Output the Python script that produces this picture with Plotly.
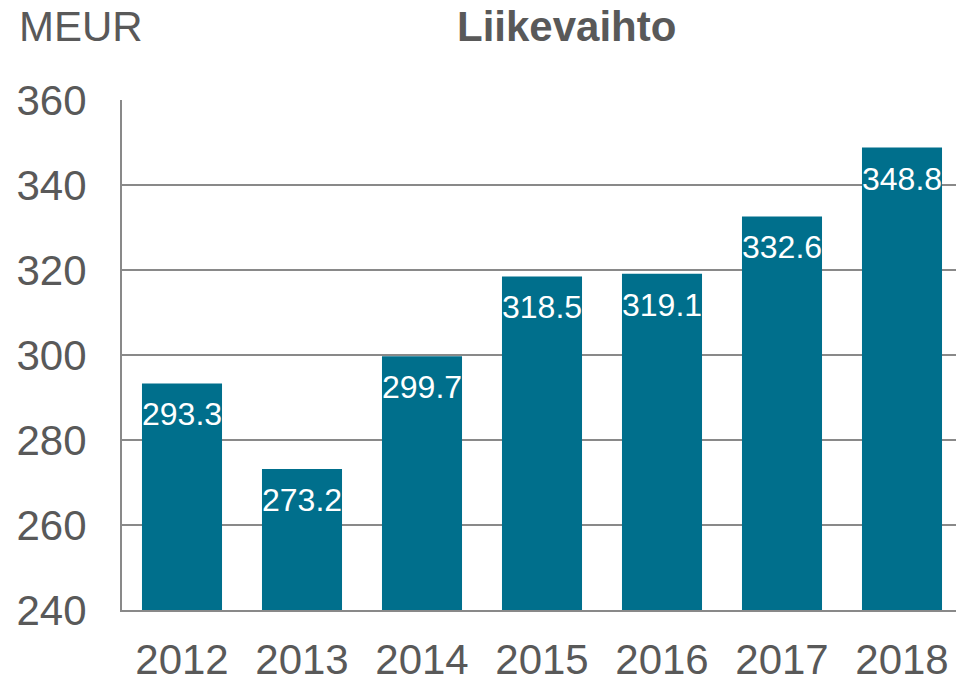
import plotly.graph_objects as go

# Liikevaihto, MEUR
years = ["2012", "2013", "2014", "2015", "2016", "2017", "2018"]
revenue = [293.3, 273.2, 299.7, 318.5, 319.1, 332.6, 348.8]

bar_color = "#006F8C"
text_gray = "#595959"
grid_gray = "#898989"
font_family = "Liberation Sans, Arial, sans-serif"

fig = go.Figure()
fig.add_trace(go.Bar(
    x=years, y=revenue,
    marker=dict(color=bar_color, line=dict(width=0)),
    hoverinfo="x+y",
))

# value labels just under the top of each bar
# (category index used for x: numeric-looking names would be read as indexes)
for i, val in enumerate(revenue):
    fig.add_annotation(x=i, y=val, text="%.1f" % val, showarrow=False,
                       yanchor="top", yshift=-11,
                       font=dict(family=font_family, size=32, color="white"))

# title and unit, placed in pixels relative to the plot area
fig.add_annotation(text="<b>Liikevaihto</b>", xref="paper", yref="paper",
                   x=(566 - 122) / 834, y=1 + (100 - 26) / 510,
                   xanchor="center", yanchor="middle", showarrow=False,
                   font=dict(size=42, color=text_gray))
fig.add_annotation(text="MEUR", xref="paper", yref="paper",
                   x=(17 - 122) / 834, y=1 + (100 - 26) / 510,
                   xanchor="left", yanchor="middle", showarrow=False,
                   font=dict(size=42, color=text_gray))

fig.update_layout(
    width=956, height=679,
    margin=dict(l=122, r=0, t=100, b=69),
    plot_bgcolor="white", paper_bgcolor="white",
    showlegend=False,
    bargap=0.333,
    font=dict(family=font_family, color=text_gray),
)

fig.update_yaxes(
    range=[240, 360], dtick=20, tick0=240,
    showgrid=True, gridcolor=grid_gray, gridwidth=1.5,
    showline=True, linecolor=grid_gray, linewidth=2,
    zeroline=False, ticks="", automargin=False,
    tickfont=dict(size=42, color=text_gray),
    ticklabelstandoff=25,
)
# the original plot area runs a little past the right edge of the picture
fig.update_xaxes(
    type="category", range=[-0.5, 6.45],
    showline=True, linecolor=grid_gray, linewidth=2,
    ticks="", automargin=False,
    tickfont=dict(size=42, color=text_gray),
    ticklabelstandoff=12,
)

fig.write_html("out.html", config={"displayModeBar": False},
               post_script="document.body.style.margin='0';")
